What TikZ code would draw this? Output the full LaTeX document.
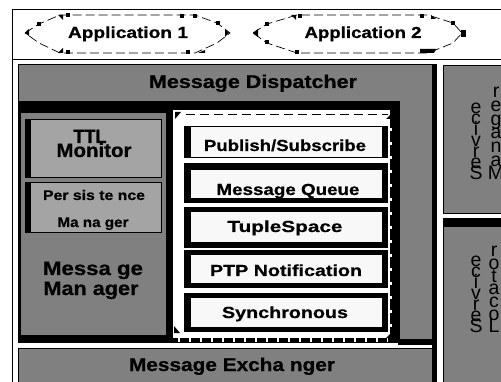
\documentclass[tikz,border=0pt]{standalone}
\usepackage{fontspec}
\setmainfont{Liberation Sans}
\newfontfamily\hvy[FakeBold=0.6]{Liberation Sans Bold}
\usepackage{graphicx}
\newcommand\fitw[2]{\resizebox{#1pt}{\height}{#2}}
\newcommand\blk[2]{\fill ({#1-1.8},{#2-1.8}) rectangle ({#1+1.8},{#2+1.8});}
\definecolor{gA}{RGB}{128,128,128}
\definecolor{gB}{RGB}{164,164,164}
\definecolor{wB}{RGB}{248,248,248}
\tikzset{
  lblbase/.style={inner sep=0pt, anchor=base},
  title/.style={lblbase, font=\hvy\fontsize{18.5}{18.5}\selectfont},
  app/.style={lblbase, font=\hvy\fontsize{16}{16}\selectfont},
  mmtxt/.style={lblbase, font=\hvy\fontsize{19.5}{19.5}\selectfont},
  pmtxt/.style={lblbase, font=\hvy\fontsize{14}{14}\selectfont},
  boxtxt/.style={lblbase, font=\hvy\fontsize{16}{16}\selectfont},
  vl/.style={lblbase, font=\fontsize{19.5}{19.5}\selectfont},
  thinb/.style={draw=black, line width=0.7pt},
  appline/.style={draw=black, line width=0.7pt, dash pattern=on 9pt off 4pt}
}
\begin{document}
\begin{tikzpicture}[x=1pt,y=-1pt]
\useasboundingbox (0,0) rectangle (501,382);
\clip (0,0) rectangle (501,382);
\fill[white] (0,0) rectangle (501,382);
% outer frame
\draw[line width=0.8pt] (520,9) -- (12,9) -- (12,400);
\draw[line width=0.8pt] (12,59) -- (520,59);
% Application 1
\draw[appline] (25,33) -- (39,24) -- (60,15) -- (195,15) -- (217,23) -- (230,33) -- (217,43) -- (195,53) -- (60,53) -- (39,43) -- cycle;
\blk{39}{24}\blk{68}{15}\blk{182}{16}\blk{195}{16}\blk{218}{23}\blk{188}{52}\blk{68}{52}
\fill (25,33) -- (29,29) -- (29,36) -- cycle;
\fill (229,33) -- (225,29) -- (225,37) -- cycle;
\fill (58,15) -- (63,15) -- (63,20) -- cycle;
\fill (198,53) -- (205,50) -- (205,53) -- cycle;
\fill (58,53) -- (63,48) -- (63,53) -- cycle;
% Application 2
\draw[appline] (253,33) -- (267,24) -- (297,15) -- (428,15) -- (453,23) -- (462,33) -- (453,43) -- (428,53) -- (297,53) -- (267,43) -- cycle;
\blk{267}{24}\blk{300}{16}\blk{422}{16}\blk{453}{23}\blk{297}{52}\blk{267}{42}
\fill (253,33) -- (258,29) -- (258,37) -- cycle;
\fill (291,15) -- (296,15) -- (296,20) -- cycle;
\fill (431,15) -- (436,19) -- (431,19) -- cycle;
\fill (420,49) -- (436,49) -- (434,53) -- (420,53) -- cycle;
\fill (461,30) rectangle (466,37);
\node[app] (app1) at (128,38) {\fitw{120}{Application 1}};
\node[app] (app2) at (363,38) {\fitw{117}{Application 2}};
% Message Dispatcher
\fill[gA] (18,64) rectangle (432,342);
\draw[thinb] (18,64) rectangle (432,342);
\fill[black] (432,64) rectangle (437,345);
\fill[black] (398,339) rectangle (437,345);
\node[title] (disp) at (253,88) {\fitw{208}{Message Dispatcher}};
% black container
\fill[black] (18,101) rectangle (400,342);
% Message Manager interior
\fill[gA] (21,113) rectangle (166,335);
% TTL Monitor
\fill[gB] (25,119) rectangle (161,177);
\draw[thinb] (25,119) rectangle (161,177);
\fill[black] (25,119) rectangle (31,177);
\node[mmtxt] (ttl) at (90,143) {\fitw{33}{TTL}};
\node[mmtxt] (mon) at (94,157) {\fitw{75}{Monitor}};
% Persistence Manager
\fill[gB] (25,182) rectangle (161,232);
\draw[thinb] (25,182) rectangle (161,232);
\fill[black] (25,182) rectangle (31,232);
\node[pmtxt] (pers) at (94,200) {\fitw{102}{Per sis te nce}};
\node[pmtxt] (pmgr) at (93,227) {\fitw{71}{Ma na ger}};
\node[mmtxt] (mm1) at (93,275) {\fitw{100}{Messa ge}};
\node[mmtxt] (mm2) at (91,295) {\fitw{95}{Man ager}};
% white region
\fill[white] (173,110) rectangle (390,338);
\draw[black, line width=0.7pt, dash pattern=on 9pt off 5pt] (186,114) -- (388,114);
\draw[white, line width=2pt, dash pattern=on 3pt off 11pt] (391,128) -- (391,335);
\draw[white, line width=4pt, dash pattern=on 2pt off 9pt] (178,340) -- (388,340);
\fill (175,112) -- (181,112) -- (175,119) -- cycle;
\fill (386,119) -- (392,113) -- (392,119) -- cycle;
\fill (386,338) -- (392,332) -- (392,338) -- cycle;
\fill (174,326) -- (180,333) -- (174,333) -- cycle;
% service boxes inside white region
\fill[black] (184,126) rectangle (388,158);
\fill[wB] (191,127) rectangle (382,157);
\fill[black] (184,163) rectangle (388,203);
\fill[wB] (191,170) rectangle (382,198);
\fill[black] (184,207) rectangle (388,248);
\fill[wB] (191,212) rectangle (382,242);
\fill[black] (184,250) rectangle (388,288);
\fill[wB] (191,255) rectangle (382,283);
\fill[black] (184,293) rectangle (388,332);
\fill[wB] (191,298) rectangle (382,327);
\node[boxtxt] (pubsub) at (285,151) {\fitw{162}{Publish/Subscribe}};
\node[boxtxt] (mq) at (288,195) {\fitw{143}{Message Queue}};
\node[boxtxt] (ts) at (285,232) {\fitw{115}{TupleSpace}};
\node[boxtxt] (ptp) at (286,276) {\fitw{152}{PTP Notification}};
\node[boxtxt] (sync) at (285,318) {\fitw{126}{Synchronous}};
% Message Exchanger
\fill[gA] (18,348) rectangle (432,395);
\draw[thinb] (18,348) rectangle (432,395);
\fill[black] (432,345) rectangle (437,395);
\node[title] (exch) at (232,371) {\fitw{206}{Message Excha nger}};
% Service Manager
\fill[gA] (443,65) rectangle (510,213);
\draw[thinb] (443,65) rectangle (510,213);
\foreach \ch [count=\k from 0] in {S,e,r,v,i,c,e}
  \node[vl] (smA\k) at (476,{180-11*\k}) {\ch};
\foreach \ch [count=\k from 0] in {M,a,n,a,g,e,r}
  \node[vl] (smB\k) at (496,{180-13.7*\k}) {\ch};
% Service Locator
\fill[black] (443,218) rectangle (510,226);
\fill[gA] (443,226) rectangle (510,395);
\draw[thinb] (443,226) rectangle (510,395);
\foreach \ch [count=\k from 0] in {S,e,r,v,i,c,e}
  \node[vl] (slA\k) at (476,{333-11*\k}) {\ch};
\foreach \ch [count=\k from 0] in {L,o,c,a,t,o,r}
  \node[vl] (slB\k) at (494,{333-12.7*\k}) {\ch};
\end{tikzpicture}
\end{document}
